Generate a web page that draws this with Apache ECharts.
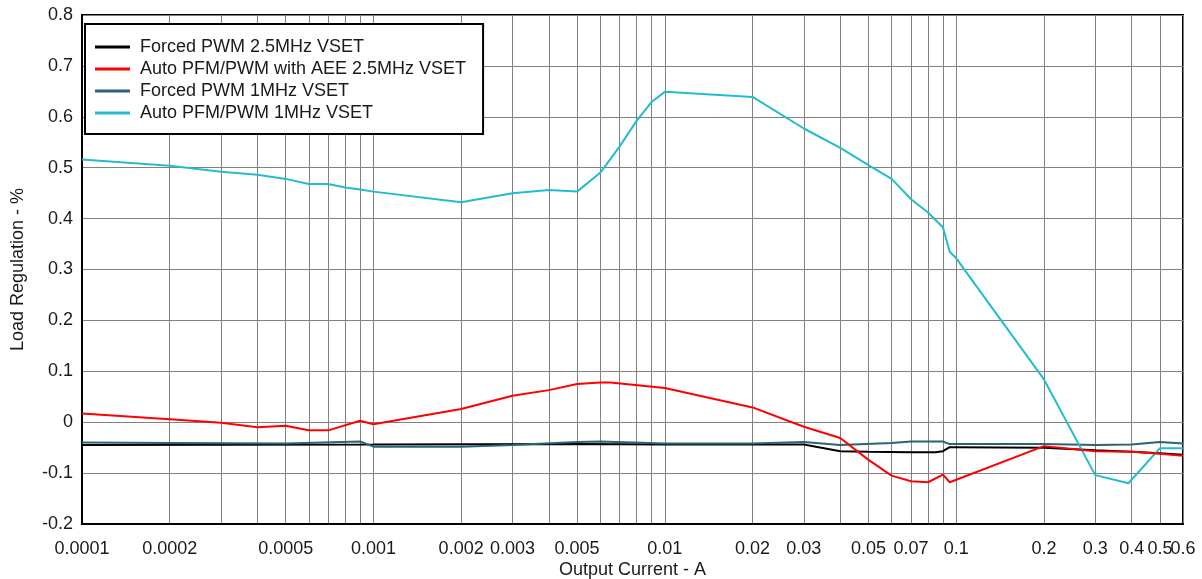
<!DOCTYPE html>
<html>
<head>
<meta charset="utf-8">
<script src="https://cdn.jsdelivr.net/npm/echarts@6/dist/echarts.min.js"></script>
<style>
html,body{margin:0;padding:0;background:#fff;}
#c{width:1202px;height:579px;}
</style>
</head>
<body>
<div id="c"></div>
<script>
// Tick labels and grid positions on the log x axis
const xLabelValues = [0.0001,0.0002,0.0005,0.001,0.002,0.003,0.005,0.01,0.02,0.03,0.05,0.07,0.1,0.2,0.3,0.4,0.5];
const xEndLabelValues = [0.6];
const xGridValues = [0.0001,0.0002,0.0003,0.0004,0.0005,0.0006,0.0007,0.0008,0.0009,
  0.001,0.002,0.003,0.004,0.005,0.006,0.007,0.008,0.009,
  0.01,0.02,0.03,0.04,0.05,0.06,0.07,0.08,0.09,
  0.1,0.2,0.3,0.4,0.5,0.6];
const xMin = 0.0001, xMax = 0.6;

const seriesNames = ['Forced PWM 2.5MHz VSET','Auto PFM/PWM with AEE 2.5MHz VSET','Forced PWM 1MHz VSET','Auto PFM/PWM 1MHz VSET'];

// Forced PWM 2.5MHz
const blackX = [0.0001,0.001,0.005,0.01,0.02,0.03,0.04,0.05,0.07,0.085,0.09,0.095,0.1,0.2,0.3,0.4,0.5,0.6];
const blackY = [-0.045,-0.044,-0.043,-0.044,-0.044,-0.044,-0.057,-0.058,-0.059,-0.059,-0.057,-0.049,-0.049,-0.050,-0.055,-0.058,-0.061,-0.064];

// Auto PFM/PWM with AEE 2.5MHz
const redX = [0.0001,0.0002,0.0003,0.0004,0.0005,0.0006,0.0007,0.0009,0.001,0.002,0.003,0.004,0.005,0.006,0.0065,0.01,0.02,0.03,0.04,0.05,0.06,0.07,0.08,0.09,0.095,0.2,0.3,0.4,0.5,0.6];
const redY = [0.017,0.006,-0.001,-0.010,-0.007,-0.016,-0.016,0.003,-0.004,0.026,0.052,0.063,0.075,0.078,0.078,0.067,0.029,-0.009,-0.031,-0.074,-0.105,-0.116,-0.118,-0.103,-0.118,-0.047,-0.057,-0.058,-0.062,-0.066];

// Forced PWM 1MHz
const tealX = [0.0001,0.0002,0.0005,0.0009,0.001,0.002,0.003,0.005,0.006,0.01,0.02,0.03,0.04,0.06,0.07,0.09,0.095,0.1,0.2,0.3,0.4,0.5,0.6];
const tealY = [-0.040,-0.041,-0.042,-0.038,-0.048,-0.048,-0.045,-0.039,-0.038,-0.042,-0.042,-0.039,-0.045,-0.041,-0.038,-0.038,-0.043,-0.043,-0.043,-0.045,-0.044,-0.039,-0.042];

// Auto PFM/PWM 1MHz
const cyanX = [0.0001,0.0002,0.0003,0.0004,0.0005,0.0006,0.0007,0.0008,0.0009,0.001,0.002,0.003,0.004,0.005,0.006,0.007,0.008,0.009,0.01,0.02,0.03,0.04,0.05,0.06,0.07,0.08,0.09,0.095,0.1,0.2,0.3,0.39,0.5,0.6];
const cyanY = [0.516,0.504,0.492,0.486,0.478,0.468,0.468,0.461,0.457,0.453,0.432,0.450,0.456,0.453,0.490,0.542,0.592,0.629,0.649,0.639,0.577,0.539,0.505,0.478,0.438,0.412,0.383,0.335,0.322,0.084,-0.104,-0.120,-0.051,-0.051];

const colors = ['#000000','#ff0000','#2b6475','#22bdcd'];
const FONT = 'Liberation Sans, Arial, sans-serif';
const TXT = '#1a1a1a';

function pairs(xs, ys){ return xs.map((x,i)=>[x, ys[i]]); }
const allData = [pairs(blackX,blackY), pairs(redX,redY), pairs(tealX,tealY), pairs(cyanX,cyanY)];

function fmtFrom(list){
  return function(v){
    for (const t of list){ if (Math.abs(t-v)/t < 1e-6) return String(t); }
    return String(v);
  };
}

const chart = echarts.init(document.getElementById('c'), null, {renderer:'canvas'});
chart.setOption({
  animation:false,
  backgroundColor:'#fff',
  color: colors,
  grid:{left:82,right:19,top:15,bottom:55,show:true,borderColor:'#000',borderWidth:2,backgroundColor:'transparent',
    outerBoundsMode:'none',containLabel:false},
  legend:{
    orient:'vertical',left:85,top:24,
    backgroundColor:'#fff',borderColor:'#000',borderWidth:2,
    padding:[14,17,12,10],
    icon:'rect',itemWidth:35,itemHeight:3,itemGap:4,
    textStyle:{fontFamily:FONT,fontSize:18,color:TXT,lineHeight:18,padding:[0,0,0,5]},
    data: seriesNames
  },
  xAxis:[{
    type:'log',logBase:10,min:xMin,max:xMax,position:'bottom',
    name:'Output Current - A',nameLocation:'middle',nameGap:37,nameMoveOverlap:false,
    nameTextStyle:{fontFamily:FONT,fontSize:18,color:TXT},
    axisLine:{show:true,onZero:false,lineStyle:{color:'#000',width:2}},
    axisTick:{show:false,customValues:xGridValues},
    axisLabel:{customValues:xLabelValues,fontFamily:FONT,fontSize:18,color:TXT,margin:16,
      showMinLabel:true,showMaxLabel:true,formatter:fmtFrom(xLabelValues)},
    splitLine:{show:true,lineStyle:{color:'#808080',width:1}}
  },{
    type:'log',logBase:10,min:xMin,max:xMax,position:'bottom',offset:0,
    axisLine:{show:false,onZero:false},
    axisTick:{show:false,customValues:xEndLabelValues},
    axisLabel:{customValues:xEndLabelValues,fontFamily:FONT,fontSize:18,color:TXT,margin:16,
      showMinLabel:true,showMaxLabel:true,formatter:fmtFrom(xEndLabelValues)},
    splitLine:{show:false}
  }],
  yAxis:{
    type:'value',min:-0.2,max:0.8,interval:0.1,
    name:'Load Regulation - %',nameLocation:'middle',nameGap:55,nameMoveOverlap:false,
    nameTextStyle:{fontFamily:FONT,fontSize:18,color:TXT},
    axisLine:{show:true,onZero:false,lineStyle:{color:'#000',width:2}},
    axisTick:{show:false},
    axisLabel:{fontFamily:FONT,fontSize:18,color:TXT,margin:9},
    splitLine:{show:true,lineStyle:{color:'#808080',width:1}}
  },
  series: seriesNames.map((n,i)=>({
    name:n,type:'line',data:allData[i],showSymbol:false,symbol:'none',xAxisIndex:0,
    lineStyle:{width:2,color:colors[i]},z:2+(i===1?2:0)
  }))
});
</script>
</body>
</html>
